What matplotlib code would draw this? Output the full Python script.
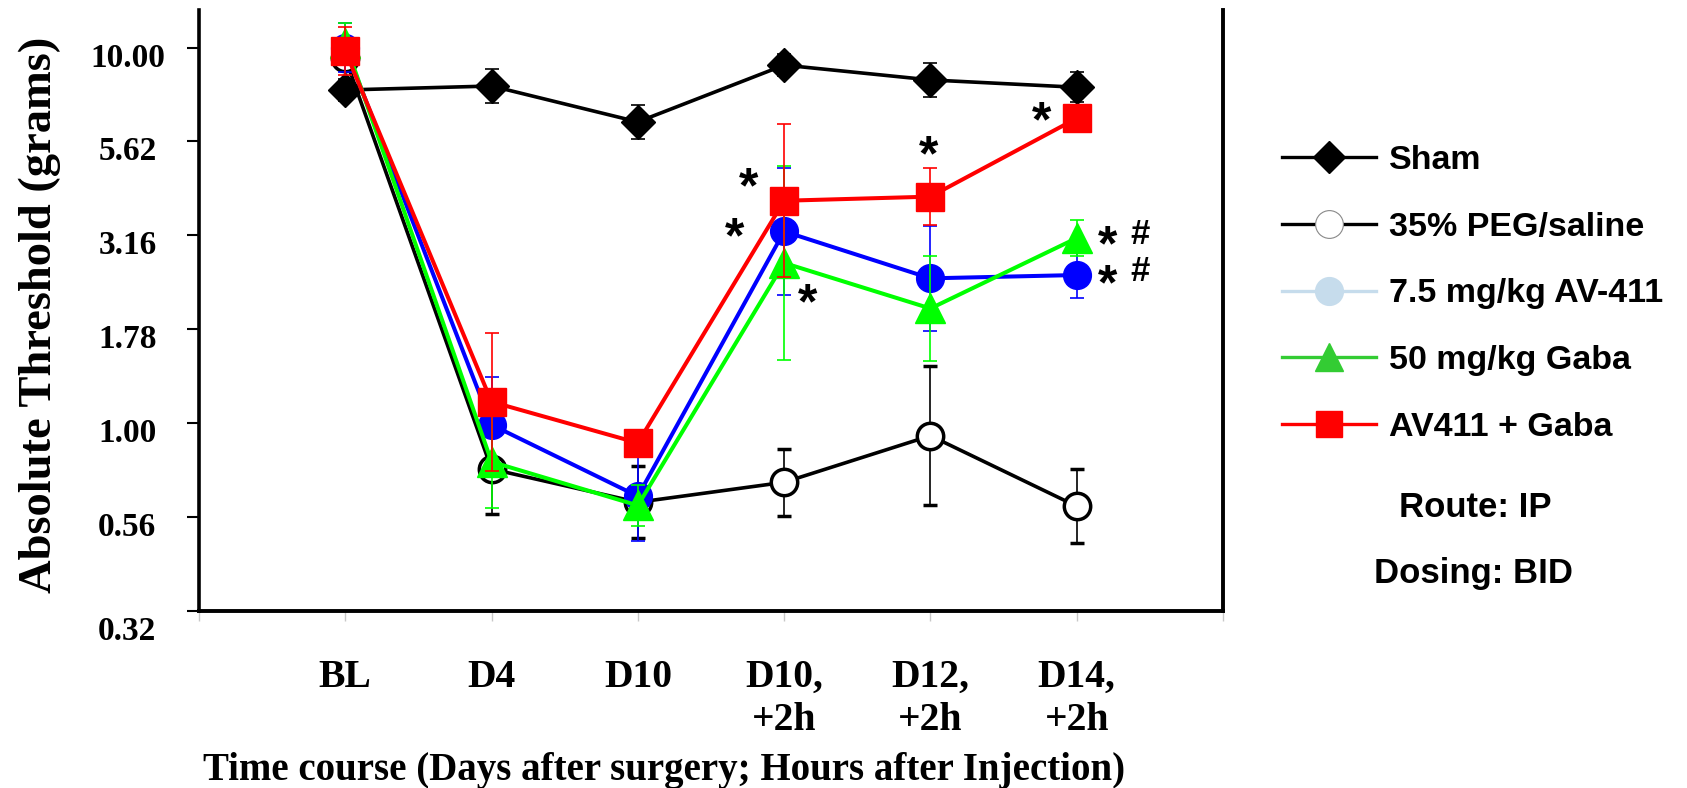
import matplotlib.pyplot as plt
import matplotlib.transforms as mtransforms
import numpy as np
from matplotlib.lines import Line2D
from matplotlib.ticker import NullLocator

# time points on the x axis
timepoints = ['BL', 'D4', 'D10', 'D10,\n+2h', 'D12,\n+2h', 'D14,\n+2h']

# group means (grams); errors are the half-length of the bars in log10 units
sham = [7.71, 7.9, 6.34, 8.98, 8.2, 7.84]
sham_err = [0.03, 0.045, 0.045, 0.03, 0.045, 0.04]
peg = [9.38, 0.755, 0.616, 0.696, 0.926, 0.601]
peg_err = [0.03, 0.119, 0.096, 0.089, 0.185, 0.098]
av411 = [10.0, 0.99, 0.639, 3.24, 2.43, 2.48]
av411_err = [0.066, 0.128, 0.12, 0.169, 0.139, 0.062]
gaba = [10.3, 0.789, 0.604, 2.67, 2.02, 3.11]
gaba_err = [0.052, 0.122, 0.055, 0.258, 0.141, 0.047]
combo = [9.79, 1.14, 0.886, 3.91, 4.01, 6.48]
combo_err = [0.064, 0.184, 0.03, 0.204, 0.075, 0.02]

legend_labels = ['Sham', '35% PEG/saline', '7.5 mg/kg AV-411', '50 mg/kg Gaba', 'AV411 + Gaba']

# significance marks: (text, x position, y value)
marks = [('*', 3.755, 4.58), ('*', 3.66, 3.37), ('*', 4.16, 2.26), ('*', 4.99, 5.57),
         ('*', 5.76, 6.90), ('*', 6.21, 3.21), ('#', 6.43, 3.23), ('*', 6.21, 2.53),
         ('#', 6.43, 2.58)]

SERIF = 'Liberation Serif'
SANS = 'Liberation Sans'

fig = plt.figure(figsize=(16.87, 7.88), dpi=100)
ax = fig.add_axes([199 / 1687, 1 - 611 / 788, 1024 / 1687, 601 / 788])
x = np.arange(1, len(timepoints) + 1)


def log_err(vals, err):
    vals = np.asarray(vals)
    f = 10 ** np.asarray(err)
    return [vals - vals / f, vals * f - vals]


series = [
    (sham, sham_err, 2.6, dict(color='black', marker='D', ms=17, mfc='black', mec='black')),
    (peg, peg_err, 2.6, dict(color='black', marker='o', ms=19, mfc='white', mec='black', mew=2.5)),
    (av411, av411_err, 2.9, dict(color='#0000ff', marker='o', ms=20, mfc='#0000ff', mec='#0000ff')),
    (gaba, gaba_err, 2.9, dict(color='#00ff00', marker='^', ms=21, mfc='#00ff00', mec='#00ff00')),
    (combo, combo_err, 2.9, dict(color='#ff0000', marker='s', ms=20.5, mfc='#ff0000', mec='#ff0000')),
]
for i, (vals, err, lw, style) in enumerate(series):
    ax.errorbar(x, vals, yerr=log_err(vals, err), lw=lw, elinewidth=1.2, capsize=5,
                capthick=1.2, zorder=3 + i, **style)

ax.set_yscale('log')
ax.set_ylim(10 ** -0.5, 10 ** 1.1)
yt = 10 ** (np.arange(-2, 5) * 0.25)
ax.set_yticks(yt)
ax.set_yticklabels([f'{v:.2f}' for v in yt], fontfamily=SERIF, fontweight='bold',
                   fontsize=24, ha='center')
ax.yaxis.set_minor_locator(NullLocator())
ax.tick_params(axis='y', direction='out', length=8.6, width=1.5, pad=43)

ax.set_xlim(0, 7)
ax.set_xticks(range(8))
ax.set_xticklabels([''] + timepoints + [''], fontfamily=SERIF, fontweight='bold',
                   fontsize=28.5)
ax.tick_params(axis='x', direction='out', length=7, width=1, color='#c8c8c8', pad=27.5)

# the printed labels sit a bit below their ticks
for k, lab in enumerate(ax.get_yticklabels()):
    dy = -12 if k == 0 else -5
    lab.set_transform(lab.get_transform() +
                      mtransforms.ScaledTranslation(0, dy / 72, fig.dpi_scale_trans))

ax.spines['top'].set_visible(False)
ax.spines['left'].set_linewidth(2.6)
ax.spines['bottom'].set_linewidth(2.8)
ax.spines['right'].set_linewidth(2.8)

for s, mx, my in marks:
    if s == '*':
        ax.annotate(s, (mx, my), xytext=(0, -20), textcoords='offset points', ha='center',
                    va='baseline', fontsize=36, fontweight='bold', fontfamily=SANS, zorder=10)
    else:
        ax.annotate(s, (mx, my), xytext=(0, -9), textcoords='offset points', ha='center',
                    va='baseline', fontsize=25, fontweight='bold', fontfamily=SANS, zorder=10)

fig.text(51 / 1687, 1 - 314.5 / 788, 'Absolute Threshold (grams)', rotation=90,
         rotation_mode='anchor', ha='center', va='baseline', fontsize=33.5,
         fontweight='bold', fontfamily=SERIF)
fig.text(664 / 1687, 1 - 780 / 788, 'Time course (Days after surgery; Hours after Injection)',
         ha='center', va='baseline', fontsize=28, fontweight='bold', fontfamily=SERIF)

handles = [
    Line2D([], [], color='black', lw=2.4, marker='D', ms=16, mfc='black', mec='black'),
    Line2D([], [], color='black', lw=2.4, marker='o', ms=20, mfc='white', mec='#888888', mew=0.8),
    Line2D([], [], color='#c6dcec', lw=2.4, marker='o', ms=20, mfc='#c6dcec', mec='#c6dcec'),
    Line2D([], [], color='#33cc33', lw=2.4, marker='^', ms=20, mfc='#33cc33', mec='#33cc33'),
    Line2D([], [], color='#ff0000', lw=2.4, marker='s', ms=19, mfc='#ff0000', mec='#ff0000'),
]
fig.legend(handles, legend_labels, loc='upper left', bbox_to_anchor=(1282 / 1687, 1 - 145 / 788),
           frameon=False, prop=dict(family=SANS, weight='bold', size=24.5), handlelength=2.76,
           handletextpad=0.38, labelspacing=1.05, borderpad=0, borderaxespad=0, numpoints=1)

fig.text(1399 / 1687, 1 - 516.7 / 788, 'Route: IP', ha='left', va='baseline', fontsize=25,
         fontweight='bold', fontfamily=SANS)
fig.text(1374 / 1687, 1 - 583.3 / 788, 'Dosing: BID', ha='left', va='baseline', fontsize=25,
         fontweight='bold', fontfamily=SANS)

fig.savefig('out.png', dpi=100)
